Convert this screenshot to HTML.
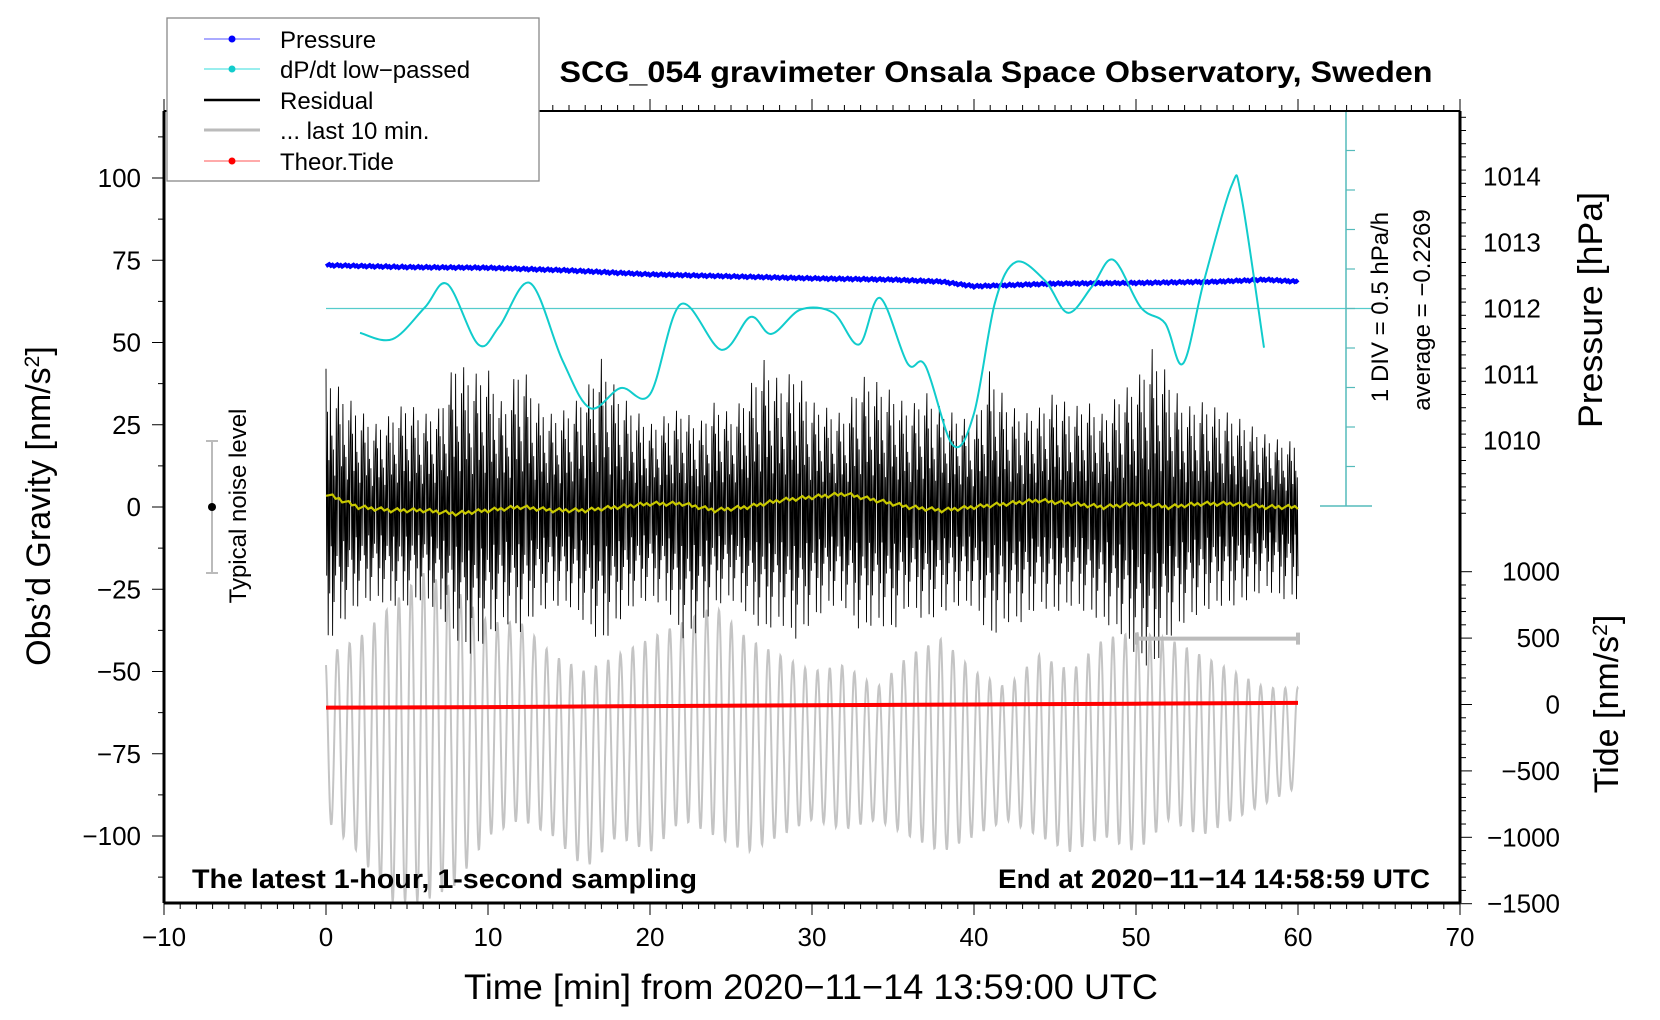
<!DOCTYPE html>
<html><head><meta charset="utf-8"><style>
body{margin:0;background:#fff;}
svg{display:block;font-family:"Liberation Sans",sans-serif;}
</style></head><body>
<svg id="chart" width="1660" height="1020" viewBox="0 0 1660 1020" xmlns="http://www.w3.org/2000/svg">
<rect width="1660" height="1020" fill="#fff"/>
<g id="marks"></g>
<g id="axes"></g>
<text x="996" y="82" text-anchor="middle" font-size="30" font-weight="bold" textLength="873" lengthAdjust="spacingAndGlyphs">SCG_054 gravimeter Onsala Space Observatory, Sweden</text>
<text x="811" y="999" text-anchor="middle" font-size="35" textLength="694" lengthAdjust="spacingAndGlyphs">Time [min] from 2020−11−14 13:59:00 UTC</text>
<text transform="translate(50,506) rotate(-90)" text-anchor="middle" font-size="34">Obs’d Gravity [nm/s<tspan baseline-shift="super" font-size="21">2</tspan>]</text>
<text transform="translate(1602,310) rotate(-90)" text-anchor="middle" font-size="34" textLength="236" lengthAdjust="spacingAndGlyphs">Pressure [hPa]</text>
<text transform="translate(1618,704) rotate(-90)" text-anchor="middle" font-size="34">Tide [nm/s<tspan baseline-shift="super" font-size="21">2</tspan>]</text>
<text transform="translate(1388,307) rotate(-90)" text-anchor="middle" font-size="24">1 DIV = 0.5 hPa/h</text>
<text transform="translate(1430,310) rotate(-90)" text-anchor="middle" font-size="24">average = −0.2269</text>
<text x="192" y="888" font-size="27" font-weight="bold" textLength="505" lengthAdjust="spacingAndGlyphs">The latest 1-hour, 1-second sampling</text>
<text x="1430" y="888" text-anchor="end" font-size="27" font-weight="bold" textLength="432" lengthAdjust="spacingAndGlyphs">End at 2020−11−14 14:58:59 UTC</text>
<g>
<line x1="212" y1="441" x2="212" y2="573" stroke="#bbb" stroke-width="2"/>
<line x1="206" y1="441" x2="218" y2="441" stroke="#bbb" stroke-width="2"/>
<line x1="206" y1="573" x2="218" y2="573" stroke="#bbb" stroke-width="2"/>
<circle cx="212" cy="507" r="4" fill="#000"/>
<text transform="translate(246,506) rotate(-90)" text-anchor="middle" font-size="24">Typical noise level</text>
</g>
<g>
<rect x="167" y="18" width="372" height="163" fill="#fff" stroke="#888" stroke-width="1.3"/>
<g><line x1="204" y1="39" x2="260" y2="39" stroke="#55f" stroke-width="1"/><circle cx="232" cy="39" r="3.5" fill="#00f"/><text x="280" y="48" font-size="24">Pressure</text></g>
<g><line x1="204" y1="69" x2="260" y2="69" stroke="#3dd" stroke-width="1"/><circle cx="232" cy="69" r="3.5" fill="#1cc"/><text x="280" y="78" font-size="24">dP/dt low−passed</text></g>
<g><line x1="204" y1="100" x2="260" y2="100" stroke="#000" stroke-width="2.5"/><text x="280" y="109" font-size="24">Residual</text></g>
<g><line x1="204" y1="130" x2="260" y2="130" stroke="#bbb" stroke-width="3"/><text x="280" y="139" font-size="24">... last 10 min.</text></g>
<g><line x1="204" y1="161" x2="260" y2="161" stroke="#f55" stroke-width="1"/><circle cx="232" cy="161" r="3.5" fill="#f00"/><text x="280" y="170" font-size="24">Theor.Tide</text></g>
</g>
</svg>
<script>
// ---- data ----
const xTicks = [-10,0,10,20,30,40,50,60,70];
const gTicks = [100,75,50,25,0,-25,-50,-75,-100];
const pTicks = [1014,1013,1012,1011,1010];
const tTicks = [1000,500,0,-500,-1000,-1500];
const pressTimes = [0,5,10,15,20,25,30,35,38,40,45,50,55,58,60];
const pressVals = [1012.66,1012.63,1012.62,1012.58,1012.52,1012.49,1012.46,1012.44,1012.41,1012.34,1012.38,1012.39,1012.41,1012.44,1012.41];
const dpTimes = [2.1,4.1,6.1,7.5,9.4,10.7,12.6,14.6,16.3,18.2,20.0,21.9,24.4,26.2,27.5,29.3,31.3,32.9,34.2,35.9,37.0,38.7,40.0,41.3,42.6,44.4,45.8,47.3,48.6,50.3,51.8,52.9,54.2,55.9,56.5,57.9];
const dpVals = [-0.535,-0.616,-0.214,0.081,-0.683,-0.455,0.095,-0.884,-1.488,-1.233,-1.313,-0.173,-0.750,-0.334,-0.549,-0.240,-0.281,-0.683,-0.093,-0.924,-0.951,-1.957,-1.555,-0.147,0.363,0.122,-0.281,0.055,0.390,-0.214,-0.415,-0.924,0.122,1.329,1.194,-0.723];
const dpAverage = -0.2269;
const resUpper = [42,35,30,25,28,32,28,30,45,40,42,30,45,32,28,30,35,45,35,30,25,28,30,25,32,28,35,45,38,42,32,30,28,40,38,35,30,35,30,28,25,42,32,28,30,35,30,32,28,35,38,48,40,30,32,30,28,25,22,20,20];
const resLower = [-42,-35,-30,-28,-30,-30,-28,-32,-40,-45,-40,-35,-38,-32,-30,-30,-35,-42,-35,-30,-28,-30,-40,-38,-30,-28,-32,-38,-35,-40,-35,-30,-30,-38,-35,-38,-30,-35,-32,-30,-30,-40,-35,-35,-30,-32,-30,-32,-35,-38,-45,-50,-40,-35,-32,-30,-30,-28,-25,-28,-28];
const yellowVals = [4,0,-1,-1,-2,-1,0,-1,-1,0,1,1,-1,0,2,3,4,2,0,-1,0,1,2,1,0,1,0,1,1,0,0];
const grayUpper = [-45,-40,-30,-20,-25,-35,-35,-45,-50,-45,-40,-35,-30,-40,-45,-50,-48,-55,-45,-40,-50,-55,-45,-50,-40,-38,-40,-45,-50,-55,-55];
const grayLower = [-95,-105,-120,-120,-115,-100,-95,-100,-110,-100,-105,-95,-100,-105,-100,-95,-98,-95,-100,-105,-100,-95,-100,-105,-100,-105,-95,-100,-95,-90,-85];
const tideTimes = [0,10,20,30,40,50,60];
const tideVals = [-24,-20,-12,-6,0,6,12];

// ---- scales ----
const X0=164,X1=1460,YT=111,YB=903;
const xS = t => X0 + (t+10)/80*(X1-X0);
const gY = v => 507 - v*3.29;
const pY = p => 308.7 - (p-1012)*66;
const tY = v => 704.5 - v/500*66.4;
const dY = v => 308.5 - (v-dpAverage)/0.5*39.5;
const NS='http://www.w3.org/2000/svg';
const marks=document.getElementById('marks'), axes=document.getElementById('axes');
function mk(tag,attrs,parent){const e=document.createElementNS(NS,tag);for(const k in attrs)e.setAttribute(k,attrs[k]);parent.appendChild(e);return e;}
function interp(arr,step,t){const i=Math.min(Math.floor(t/step),arr.length-2);const f=t/step-i;return arr[i]*(1-f)+arr[i+1]*f;}
function lin(ts,vs,t){for(let i=0;i<ts.length-1;i++){if(t<=ts[i+1]){const f=(t-ts[i])/(ts[i+1]-ts[i]);return vs[i]*(1-f)+vs[i+1]*f;}}return vs[vs.length-1];}

// gray last-10-min curve
let d='';
for(let i=0;i<=2400;i++){const t=i*60/2400;const u=interp(grayUpper,2,t),l=interp(grayLower,2,t);const c=(u+l)/2,a=(u-l)/2;const v=c+a*Math.cos(2*Math.PI*t/0.76+0.5);d+=(i?'L':'M')+xS(t).toFixed(1)+' '+gY(v).toFixed(1);}
const gray=mk('path',{d:d,fill:'none',stroke:'#c4c4c4','stroke-width':2},marks);



// residual
const pat=[1,-0.5,0.7,-0.95,0.35,-0.65,0.9,-0.3,0.55,-1,0.45,-0.75,0.25,-0.55,0.8,-0.4,0.6];
d='';
for(let i=0;i<=60*22;i++){const t=i/22;const p=pat[i%17];const v=p>0?p*interp(resUpper,1,t):-p*interp(resLower,1,t);d+=(i?'L':'M')+xS(t).toFixed(1)+' '+gY(v).toFixed(1);}
const res=mk('path',{d:d,fill:'none',stroke:'#000','stroke-width':0.9},marks);



// yellow smoothed
d='';
for(let i=0;i<=300;i++){const t=i/5;const v=interp(yellowVals,2,t)+((i*7)%5-2)*0.3;d+=(i?'L':'M')+xS(t).toFixed(1)+' '+gY(v).toFixed(1);}
const yl=mk('path',{d:d,fill:'none',stroke:'#c8c800','stroke-width':2.2},marks);



// tide
d='';tideTimes.forEach((t,i)=>{d+=(i?'L':'M')+xS(t)+' '+tY(tideVals[i]);});
const tide=mk('path',{d:d,fill:'none',stroke:'#f00','stroke-width':4},marks);



// pressure
d='';
for(let i=0;i<=600;i++){const t=i/10;const v=lin(pressTimes,pressVals,t)+((i*7)%5-2)*0.008;d+=(i?'L':'M')+xS(t).toFixed(1)+' '+pY(v).toFixed(1);}
const pr=mk('path',{d:d,fill:'none',stroke:'#00f','stroke-width':4},marks);



// dp/dt average line & scale
const avg=mk('line',{x1:xS(0),y1:dY(dpAverage),x2:1372,y2:dY(dpAverage),stroke:'#5cc','stroke-width':1.3},marks);


const sc=mk('g',{},marks);


mk('line',{x1:1346,y1:111,x2:1346,y2:506,stroke:'#5bb','stroke-width':1.5},sc);
mk('line',{x1:1320,y1:111,x2:1372,y2:111,stroke:'#5bb','stroke-width':1.5},sc);
mk('line',{x1:1320,y1:506,x2:1372,y2:506,stroke:'#5bb','stroke-width':1.5},sc);
for(let k=1;k<10;k++)mk('line',{x1:1346,y1:111+k*39.5,x2:1355,y2:111+k*39.5,stroke:'#5bb','stroke-width':1.2},sc);

// dp/dt curve (Catmull-Rom)
d='M'+xS(dpTimes[0])+' '+dY(dpVals[0]);
for(let i=0;i<dpTimes.length-1;i++){
 const P=k=>[xS(dpTimes[Math.max(0,Math.min(dpTimes.length-1,k))]),dY(dpVals[Math.max(0,Math.min(dpVals.length-1,k))])];
 const p0=P(i-1),p1=P(i),p2=P(i+1),p3=P(i+2);
 d+='C'+(p1[0]+(p2[0]-p0[0])/6).toFixed(1)+' '+(p1[1]+(p2[1]-p0[1])/6).toFixed(1)+' '+(p2[0]-(p3[0]-p1[0])/6).toFixed(1)+' '+(p2[1]-(p3[1]-p1[1])/6).toFixed(1)+' '+p2[0].toFixed(1)+' '+p2[1].toFixed(1);
}
const dp=mk('path',{d:d,fill:'none',stroke:'#1cc','stroke-width':2},marks);



// 10-min bar
const bar=mk('g',{stroke:'#bbb','stroke-width':4},marks);


mk('line',{x1:xS(50),y1:gY(-40),x2:xS(60),y2:gY(-40)},bar);
mk('line',{x1:xS(50),y1:gY(-40)-6,x2:xS(50),y2:gY(-40)+6},bar);
mk('line',{x1:xS(60),y1:gY(-40)-6,x2:xS(60),y2:gY(-40)+6},bar);

// frame
const fr=mk('g',{fill:'none',stroke:'#000'},axes);


mk('line',{x1:X0,y1:YT,x2:X1,y2:YT,'stroke-width':2},fr);
mk('line',{x1:X0,y1:YB,x2:X1,y2:YB,'stroke-width':3},fr);
mk('line',{x1:X0,y1:YT,x2:X0,y2:YB,'stroke-width':3},fr);
mk('line',{x1:X1,y1:YT,x2:X1,y2:YB,'stroke-width':3},fr);
for(let t=-10;t<=70;t++){const maj=t%10===0;mk('line',{x1:xS(t),y1:YB,x2:xS(t),y2:YB+(maj?12:6),'stroke-width':1},fr);mk('line',{x1:xS(t),y1:YT,x2:xS(t),y2:YT-(maj?12:6),'stroke-width':1},fr);}
xTicks.forEach(t=>{const e=mk('text',{x:xS(t),y:946,'text-anchor':'middle','font-size':26},axes);e.textContent=(t<0?'−':'')+Math.abs(t);

});
for(let v=-112.5;v<=112.5;v+=12.5){const maj=v%25===0;mk('line',{x1:X0,y1:gY(v),x2:X0-(maj?12:6),y2:gY(v),'stroke-width':1},fr);}
gTicks.forEach(v=>{const e=mk('text',{x:141,y:gY(v)+9,'text-anchor':'end','font-size':26},axes);e.textContent=(v<0?'−':'')+Math.abs(v);

});
for(let p=1008.1;p<=1015.3;p+=0.2){const maj=Math.abs(p-Math.round(p))<0.01;const y=pY(p);if(y<YT||y>520)continue;mk('line',{x1:X1,y1:y,x2:X1+(maj?12:6),y2:y,'stroke-width':1},fr);}
pTicks.forEach(v=>{const e=mk('text',{x:1483,y:pY(v)+9,'font-size':26},axes);e.textContent=v;

});
for(let v=-1500;v<=1000;v+=100){const maj=v%500===0;mk('line',{x1:X1,y1:tY(v),x2:X1+(maj?12:6),y2:tY(v),'stroke-width':1},fr);}
tTicks.forEach(v=>{const e=mk('text',{x:1560,y:tY(v)+9,'text-anchor':'end','font-size':26},axes);e.textContent=(v<0?'−':'')+Math.abs(v);

});
</script>
</body></html>
